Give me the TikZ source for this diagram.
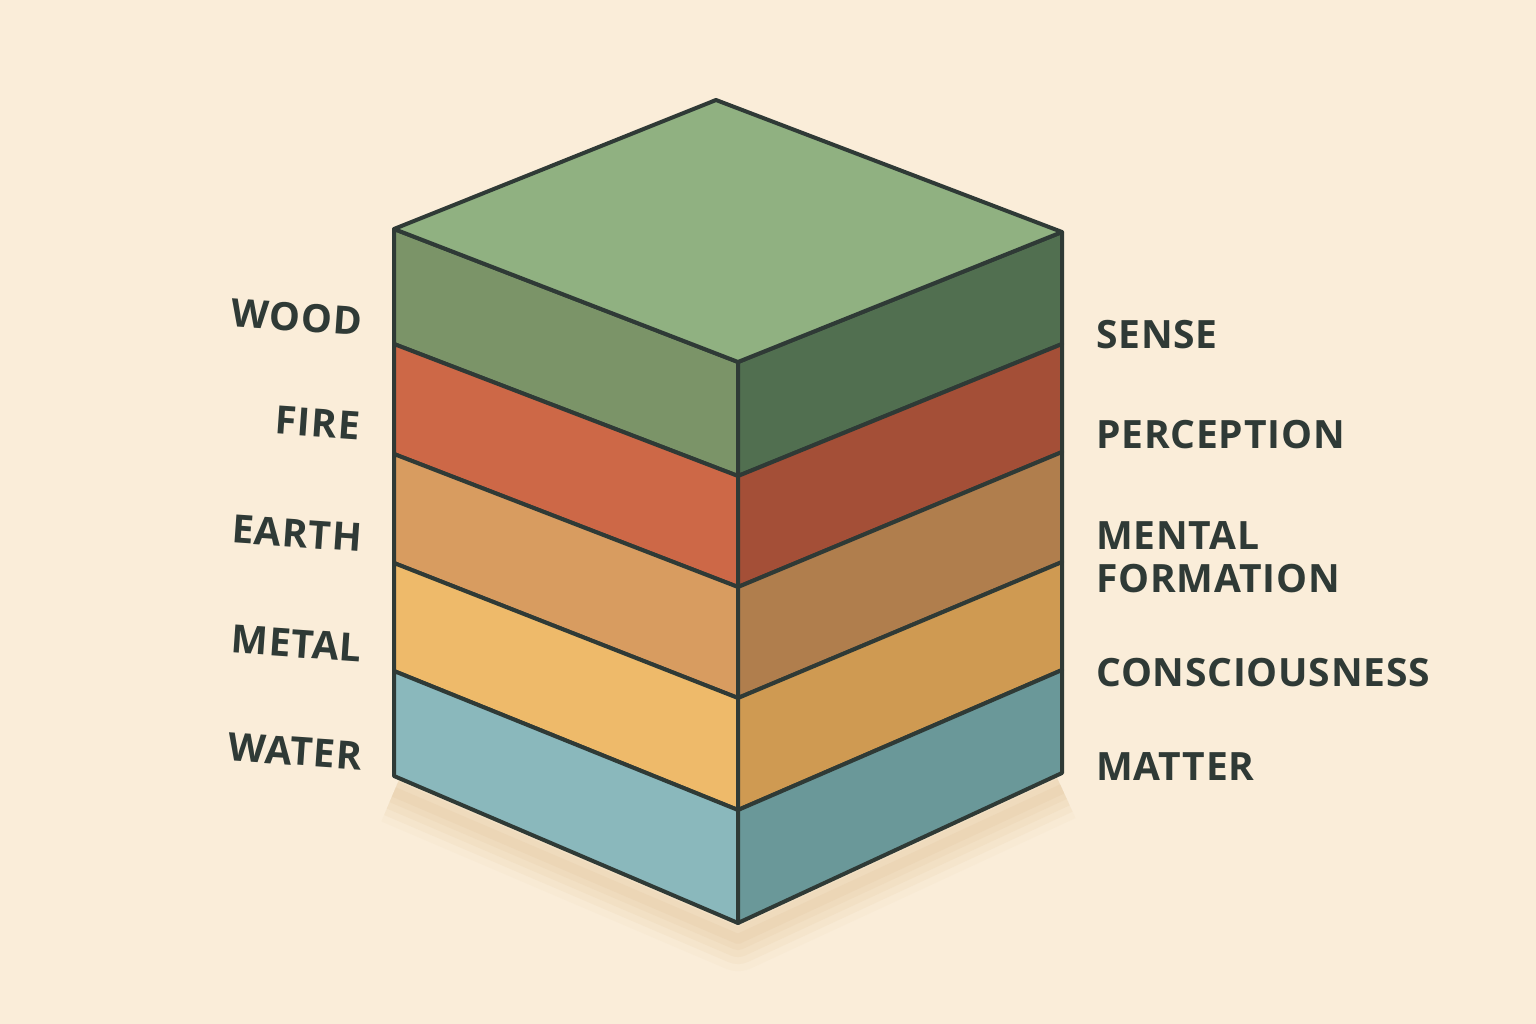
\documentclass[tikz,border=0pt]{standalone}
\usepackage{fontspec}
\setmainfont{Open Sans}[LetterSpace=2]
\definecolor{bg}{HTML}{FAEDD9}
\definecolor{ink}{HTML}{2F3A36}
\definecolor{topc}{HTML}{90B181}
\definecolor{woodL}{HTML}{7B9468}
\definecolor{woodR}{HTML}{516F50}
\definecolor{fireL}{HTML}{CD6847}
\definecolor{fireR}{HTML}{A44F37}
\definecolor{earthL}{HTML}{D89C60}
\definecolor{earthR}{HTML}{B07E4D}
\definecolor{metalL}{HTML}{EEBA6A}
\definecolor{metalR}{HTML}{CF9A52}
\definecolor{waterL}{HTML}{8AB8BC}
\definecolor{waterR}{HTML}{6A9899}
\tikzset{
  face/.style={draw=ink, line width=4pt, line join=round},
  lbl/.style={text=ink, font=\fontsize{39}{44}\selectfont\bfseries, inner sep=0pt},
  lleft/.style={lbl, anchor=east, rotate=-4},
  lright/.style={lbl, anchor=west, align=left},
}
\begin{document}
\begin{tikzpicture}[x=1pt,y=-1pt]
\fill[bg] (0,0) rectangle (1536,1024);
\useasboundingbox (0,0) rectangle (1536,1024);
% coordinates
\coordinate (T) at (716,100);
\foreach \i/\yl/\yf/\yr in {0/229/362/232,1/344/476/344,2/454/587/452,3/563/698/562,4/671/810/670,5/776/923/773}{
  \coordinate (L\i) at (394,\yl);
  \coordinate (F\i) at (738,\yf);
  \coordinate (R\i) at (1062,\yr);
}
% soft shadow below
\foreach \w/\c in {64/F8EAD4,50/F5E5CC,36/F2E0C4,22/EFDBBD,10/ECD6B6}{
  \definecolor{tmpc}{HTML}{\c}
  \draw[tmpc, line width=\w pt, line join=round, line cap=butt]
    ([yshift=-16pt]L5) -- ([yshift=-16pt]F5) -- ([yshift=-16pt]R5);
}
% layers
\foreach \i/\j/\cl/\cr in {0/1/woodL/woodR,1/2/fireL/fireR,2/3/earthL/earthR,3/4/metalL/metalR,4/5/waterL/waterR}{
  \filldraw[face, fill=\cl] (L\i) -- (F\i) -- (F\j) -- (L\j) -- cycle;
  \filldraw[face, fill=\cr] (F\i) -- (R\i) -- (R\j) -- (F\j) -- cycle;
}
\filldraw[face, fill=topc] (T) -- (R0) -- (F0) -- (L0) -- cycle;
% labels
\node[lleft] (wood) at (362,322) {WOOD};
\node[lleft] (fire) at (360,426) {FIRE};
\node[lleft] (earth) at (362,538) {EARTH};
\node[lleft] (metal) at (362,648) {METAL};
\node[lleft] (water) at (362,756) {WATER};
\node[lright] (sense) at (1096,335) {SENSE};
\node[lright] (perc) at (1096,435) {PERCEPTION};
\node[lright] (mental) at (1096,557) {MENTAL\\[-1pt]FORMATION};
\node[lright] (consc) at (1096,673) {CONSCIOUSNESS};
\node[lright] (matter) at (1096,767) {MATTER};
\end{tikzpicture}
\end{document}
